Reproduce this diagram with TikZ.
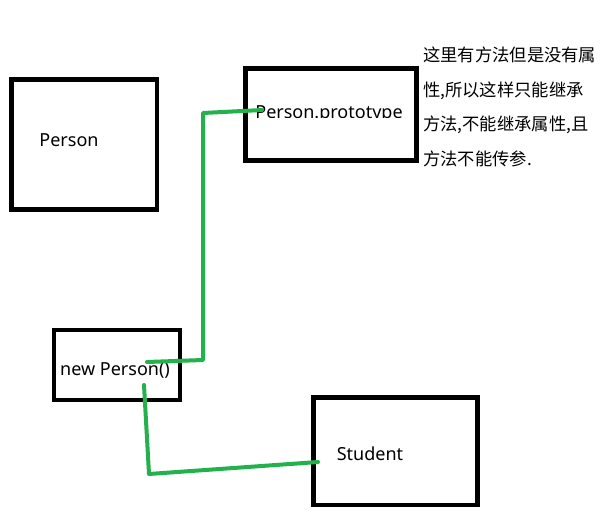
\documentclass[tikz,border=0pt]{standalone}
\usepackage{fontspec}
\setmainfont{Noto Sans}
\newfontfamily\cjk{Noto Sans CJK SC}
\definecolor{pgreen}{HTML}{22B14C}
\begin{document}
\begin{tikzpicture}[x=1pt,y=-1pt,
  box/.style={draw=black,line width=4.7pt,rectangle,inner sep=0pt,outer sep=0pt},
  lbl/.style={inner sep=0pt,anchor=base,font=\fontsize{18}{21}\selectfont},
  link/.style={draw=pgreen,line width=4pt,line cap=round,line join=round}]
\useasboundingbox[fill=white] (0,0) rectangle (609,521);
% boxes
\node[box,minimum width=145.5pt,minimum height=130pt] (person) at (84.25,144.5) {};
\node[box,minimum width=171pt,minimum height=92pt] (proto) at (331,114.5) {};
\node[box,minimum width=126pt,minimum height=70pt] (newp) at (117,365) {};
\node[box,minimum width=164pt,minimum height=107.5pt] (student) at (395.5,451.25) {};
% labels
\node[lbl] (tperson) at (69,147) {Person};
\begin{scope}
\clip (250,90) rectangle (414,118);
\node[lbl] (tproto) at (329,118.5) {Person.prototype};
\end{scope}
\node[lbl] (tnewp) at (115,375) {new Person()};
\node[lbl] (tstudent) at (370,460) {Student};
\node[inner sep=0pt,anchor=north west,align=left,font=\cjk\fontsize{17.3}{34.5}\selectfont] (note) at (423,47)
  {这里有方法但是没有属\\性,所以这样只能继承\\方法,不能继承属性,且\\方法不能传参.};
% connectors
\coordinate (a1) at (262,110);
\coordinate (a2) at (203,113);
\coordinate (a3) at (203,360);
\coordinate (a4) at (147,362);
\coordinate (b1) at (144,385);
\coordinate (b2) at (149,474);
\coordinate (b3) at (318,462);
\draw[link] (a1) -- (a2) -- (a3) -- (a4);
\draw[link] (b1) -- (b2) -- (b3);
\end{tikzpicture}
\end{document}
